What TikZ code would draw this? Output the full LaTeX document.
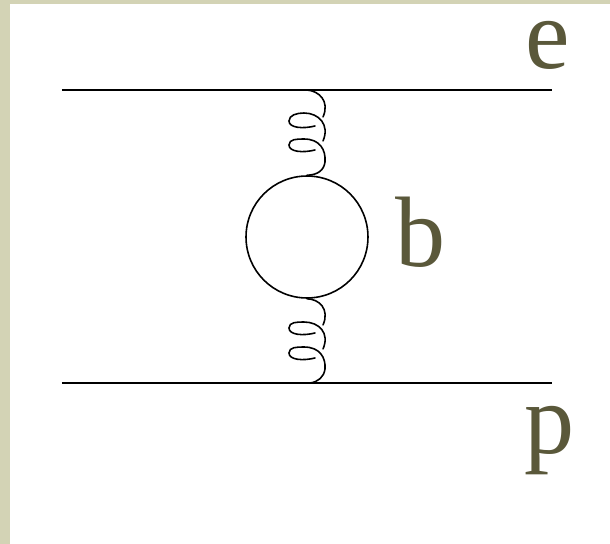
\documentclass[tikz,border=0pt]{standalone}
\usepackage{fontspec}
\setmainfont[Ligatures=TeX]{Liberation Serif}
\newfontfamily\letterfont{Liberation Serif}
\usepackage{tikz}
\definecolor{paper}{HTML}{D3D3B5}
\definecolor{olive}{HTML}{5A583A}

\begin{document}
\begin{tikzpicture}[
  x=0.02cm, y=-0.02cm,
  letter/.style={text=olive, inner sep=0pt, font=\letterfont\fontsize{57}{57}\selectfont},
  fermion/.style={draw=black, line width=1.1pt},
  gluon/.style={draw=black, line width=0.9pt, line cap=round}
]
\useasboundingbox (0,0) rectangle (610,544);
\fill[paper] (0,0) rectangle (610,544);
\fill[white] (10,4) rectangle (610,544);

\coordinate (eL) at (62,90);
\coordinate (eR) at (552,90);
\coordinate (pL) at (62,383);
\coordinate (pR) at (552,383);
\coordinate (eV) at (307,90);
\coordinate (pV) at (310,383);
\node[circle, draw=black, line width=0.9pt, inner sep=0pt, minimum size=2.44cm] (bub) at (307,237) {};
\coordinate (bT) at (bub.north);
\coordinate (bB) at (bub.south);

\draw[fermion] (eL) -- (eR);
\draw[fermion] (pL) -- (pR);

% upper gluon
\draw[gluon] (eV) .. controls (319,91) and (330,101) .. (323,117);
\draw[gluon] (315,126) .. controls (303,129) and (289,128) .. (289,121)
  .. controls (289,115) and (297,113) .. (304,113)
  .. controls (319,113) and (330,125) .. (323,141);
\draw[gluon] (315,150) .. controls (303,153) and (289,152) .. (289,145)
  .. controls (289,139) and (297,139) .. (304,139)
  .. controls (320,139) and (326,150) .. (325,162)
  .. controls (324,170) and (318,175) .. (bT);

% lower gluon
\draw[gluon] (bB) .. controls (319,299) and (330,309) .. (323,325);
\draw[gluon] (315,333) .. controls (303,336) and (289,335) .. (289,328)
  .. controls (289,322) and (297,322) .. (304,322)
  .. controls (319,322) and (330,333) .. (323,349);
\draw[gluon] (315,358) .. controls (303,361) and (289,360) .. (289,353)
  .. controls (289,347) and (297,347) .. (304,347)
  .. controls (320,347) and (326,358) .. (325,369)
  .. controls (324,377) and (318,382) .. (pV);

\node[letter, anchor=base] (e) at (548,69) {e};
\node[letter, anchor=base] (b) at (421,267) {b};
\node[letter, anchor=base] (p) at (550,454) {p};
\end{tikzpicture}
\end{document}
